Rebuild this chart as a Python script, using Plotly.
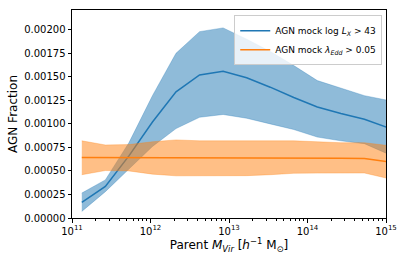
import numpy as np
import plotly.graph_objects as go

log_mass = [11.125, 11.425, 11.725, 12.025, 12.325, 12.625, 12.925, 13.225, 13.525, 13.825, 14.125, 14.425, 14.725, 15.025]

lx_mean = [0.000165, 0.000335, 0.00066, 0.00102, 0.00134, 0.00152, 0.00156, 0.00149, 0.00139, 0.00128, 0.00118, 0.00111, 0.00105, 0.00096]
lx_upper = [0.000265, 0.000405, 0.00080, 0.00130, 0.00175, 0.00198, 0.00202, 0.00190, 0.00177, 0.00162, 0.00146, 0.00138, 0.00130, 0.00125]
lx_lower = [0.00007, 0.00028, 0.00052, 0.00076, 0.00095, 0.00107, 0.00110, 0.00106, 0.00100, 0.00094, 0.00086, 0.00082, 0.00079, 0.00068]

edd_mean = [0.000642, 0.000642, 0.000642, 0.000642, 0.000642, 0.000642, 0.000640, 0.000642, 0.000642, 0.000640, 0.000640, 0.000635, 0.000632, 0.000598]
edd_upper = [0.00082, 0.000776, 0.00078, 0.00081, 0.00083, 0.00082, 0.00082, 0.00082, 0.00082, 0.00082, 0.00081, 0.00080, 0.00080, 0.00077]
edd_lower = [0.00046, 0.000504, 0.00050, 0.000466, 0.000448, 0.000448, 0.000448, 0.00045, 0.00046, 0.000475, 0.000477, 0.000477, 0.000478, 0.00042]

x_tick_vals = [1e11, 1e12, 1e13, 1e14, 1e15]
x_tick_text = ["10<sup>11</sup>", "10<sup>12</sup>", "10<sup>13</sup>", "10<sup>14</sup>", "10<sup>15</sup>"]
y_tick_vals = [0, 0.00025, 0.0005, 0.00075, 0.001, 0.00125, 0.0015, 0.00175, 0.002]

mass = [10 ** v for v in log_mass]
blue = "#1f77b4"
orange = "#ff7f0e"

fig = go.Figure()

def band(lo, hi, rgba):
    fig.add_trace(go.Scatter(x=mass, y=lo, mode="lines", line=dict(width=0.6, color=rgba),
                             showlegend=False, hoverinfo="skip"))
    fig.add_trace(go.Scatter(x=mass, y=hi, mode="lines", line=dict(width=0.6, color=rgba),
                             fill="tonexty", fillcolor=rgba,
                             showlegend=False, hoverinfo="skip"))

band(lx_lower, lx_upper, "rgba(31,119,180,0.5)")
fig.add_trace(go.Scatter(x=mass, y=lx_mean, mode="lines", line=dict(color=blue, width=1.5),
                         name="AGN mock log <i>L<sub>X</sub></i> > 43"))
band(edd_lower, edd_upper, "rgba(255,127,14,0.5)")
fig.add_trace(go.Scatter(x=mass, y=edd_mean, mode="lines", line=dict(color=orange, width=1.5),
                         name="AGN mock <i>λ<sub>Edd</sub></i> > 0.05"))

minor_vals = [m * 10 ** e for e in range(11, 15) for m in range(2, 10)]

fig.update_layout(
    width=407, height=254,
    margin=dict(l=72, r=21, t=10, b=36),
    paper_bgcolor="white", plot_bgcolor="white",
    font=dict(family="DejaVu Sans", size=10, color="black"),
    showlegend=True,
    legend=dict(x=0.988, y=0.975, xanchor="right", yanchor="top", traceorder="normal",
                bgcolor="rgba(255,255,255,0.8)", bordercolor="#cccccc", borderwidth=1,
                font=dict(size=9), tracegroupgap=0, itemwidth=30),
)
fig.update_xaxes(type="log", range=[11, 15], tickvals=x_tick_vals, ticktext=x_tick_text,
                 automargin=False,
                 showline=True, mirror=True, linecolor="black", linewidth=1,
                 ticks="outside", ticklen=3.5, tickcolor="black", showgrid=False,
                 minor=dict(tickvals=minor_vals, ticks="outside", ticklen=2, tickcolor="black", showgrid=False),
                 title=dict(text="Parent <i>M<sub>Vir</sub></i> [<i>h</i><sup>−1</sup> M<sub>⊙</sub>]",
                            font=dict(size=12), standoff=2),
                 tickfont=dict(size=10))
fig.update_yaxes(range=[0, 0.00221], tickvals=y_tick_vals, tickformat=".5f",
                 automargin=False,
                 showline=True, mirror=True, linecolor="black", linewidth=1,
                 ticks="outside", ticklen=3.5, tickcolor="black", showgrid=False, zeroline=False,
                 title=dict(text="AGN Fraction", font=dict(size=12), standoff=3),
                 tickfont=dict(size=10))

fig.write_html("out.html", config={"displayModeBar": False},
               post_script="document.body.style.margin='0';")
